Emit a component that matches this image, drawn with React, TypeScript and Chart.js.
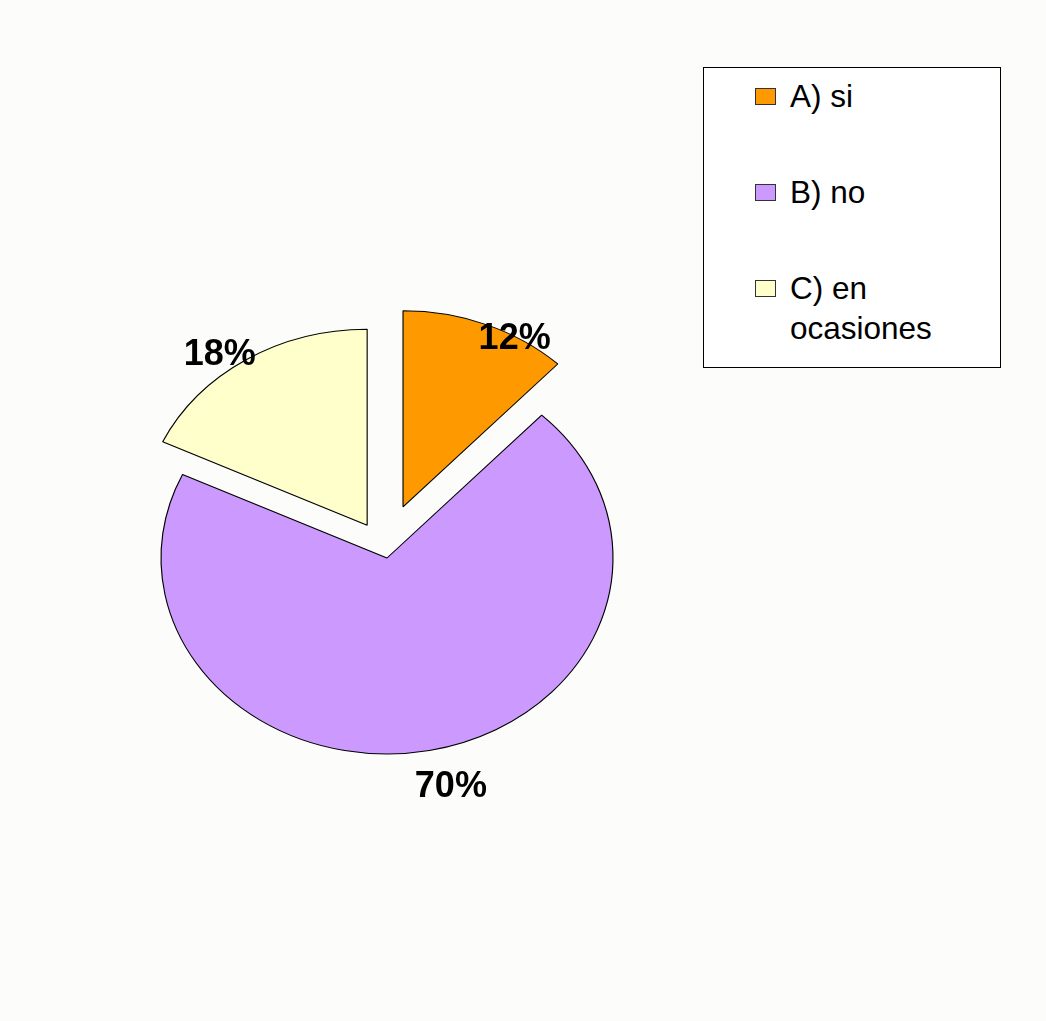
import React, { useEffect, useRef } from "react";
import { Chart, registerables } from "chart.js";

Chart.register(...registerables);

// ---- data ----
const categories = ["A) si", "B) no", "C) en ocasiones"];
const legendLines = [["A) si"], ["B) no"], ["C) en", "ocasiones"]];
const percentages = [12, 70, 18];
const sliceColors = ["#FF9900", "#CC99FF", "#FFFFCC"];
const explodePx = [53, 0, 37];

// ---- style / layout ----
const RADIUS = 196;
const STRETCH_X = 1.153;
const explodeShiftDeg = [-6.4, 0, 4.7];
const labelRadius = [1.0, 1.185, 1.1];
const labelShiftDeg = [8, -3, -4];
const LABEL_FONT_PX = 36;

const stretchPlugin = {
  id: "stretchPie",
  afterDatasetsUpdate(chart: any) {
    const area = chart.chartArea;
    const cx = (area.left + area.right) / 2;
    const cy = (area.top + area.bottom) / 2;
    const meta = chart.getDatasetMeta(0);
    meta.data.forEach((el: any, i: number) => {
      const mid = (el.startAngle + el.endAngle) / 2 + (explodeShiftDeg[i] * Math.PI) / 180;
      el.x = cx + Math.cos(mid) * explodePx[i];
      el.y = cy + Math.sin(mid) * explodePx[i];
    });
  },
  beforeDatasetsDraw(chart: any) {
    const area = chart.chartArea;
    const cx = (area.left + area.right) / 2;
    const cy = (area.top + area.bottom) / 2;
    const ctx = chart.ctx;
    ctx.save();
    ctx.translate(cx, cy);
    ctx.scale(STRETCH_X, 1);
    ctx.translate(-cx, -cy);
  },
  afterDatasetsDraw(chart: any) {
    chart.ctx.restore();
  },
};

const labelPlugin = {
  id: "pctLabels",
  afterDraw(chart: any) {
    const area = chart.chartArea;
    const cx = (area.left + area.right) / 2;
    const ctx = chart.ctx;
    const meta = chart.getDatasetMeta(0);
    ctx.save();
    ctx.font = `bold ${LABEL_FONT_PX}px "Liberation Sans", Arial, sans-serif`;
    ctx.fillStyle = "#000";
    ctx.textAlign = "center";
    ctx.textBaseline = "alphabetic";
    meta.data.forEach((el: any, i: number) => {
      const mid = (el.startAngle + el.endAngle) / 2;
      const a = mid + (labelShiftDeg[i] * Math.PI) / 180;
      const px = el.x + Math.cos(a) * RADIUS * labelRadius[i];
      const py = el.y + Math.sin(a) * RADIUS * labelRadius[i];
      const sx = cx + (px - cx) * STRETCH_X;
      ctx.fillText(`${percentages[i]}%`, sx, py + LABEL_FONT_PX * 0.36);
    });
    ctx.restore();
  },
};

export default function App() {
  const canvasRef = useRef<HTMLCanvasElement | null>(null);

  useEffect(() => {
    document.body.style.margin = "0";
    const canvas = canvasRef.current;
    if (!canvas) return;
    const chart = new Chart(canvas, {
      type: "pie",
      data: {
        labels: categories,
        datasets: [
          {
            data: percentages,
            backgroundColor: sliceColors,
            borderColor: "#000000",
            borderWidth: 1,
            radius: RADIUS,
            clip: false,
          } as any,
        ],
      },
      options: {
        responsive: false,
        animation: false,
        events: [],
        layout: { padding: { left: 0, right: 272, top: 116, bottom: 21 } },
        plugins: {
          legend: { display: false },
          tooltip: { enabled: false },
          title: { display: false },
        },
      } as any,
      plugins: [stretchPlugin, labelPlugin],
    });
    return () => chart.destroy();
  }, []);

  return (
    <div
      style={{
        position: "relative",
        width: 1046,
        height: 1021,
        background: "#FCFCFA",
        overflow: "hidden",
      }}
    >
      <canvas
        ref={canvasRef}
        width={1046}
        height={1021}
        style={{ position: "absolute", left: 0, top: 0 }}
      />
      <div
        style={{
          position: "absolute",
          left: 703,
          top: 67,
          width: 298,
          height: 301,
          boxSizing: "border-box",
          border: "1px solid #000",
          background: "#FFFFFF",
          fontFamily: '"Liberation Sans", Arial, sans-serif',
          fontSize: 31.5,
          lineHeight: "40px",
          color: "#000",
        }}
      >
        {legendLines.map((lines, i) => (
          <div
            key={categories[i]}
            style={{ position: "absolute", left: 0, right: 0, top: 8 + i * 96 }}
          >
            <div
              style={{
                position: "absolute",
                left: 51,
                top: 12,
                width: 21,
                height: 17,
                boxSizing: "border-box",
                border: "1px solid #333",
                background: sliceColors[i],
              }}
            />
            <div style={{ position: "absolute", left: 86, top: 0, whiteSpace: "nowrap" }}>
              {lines.map((t) => (
                <div key={t}>{t}</div>
              ))}
            </div>
          </div>
        ))}
      </div>
    </div>
  );
}
